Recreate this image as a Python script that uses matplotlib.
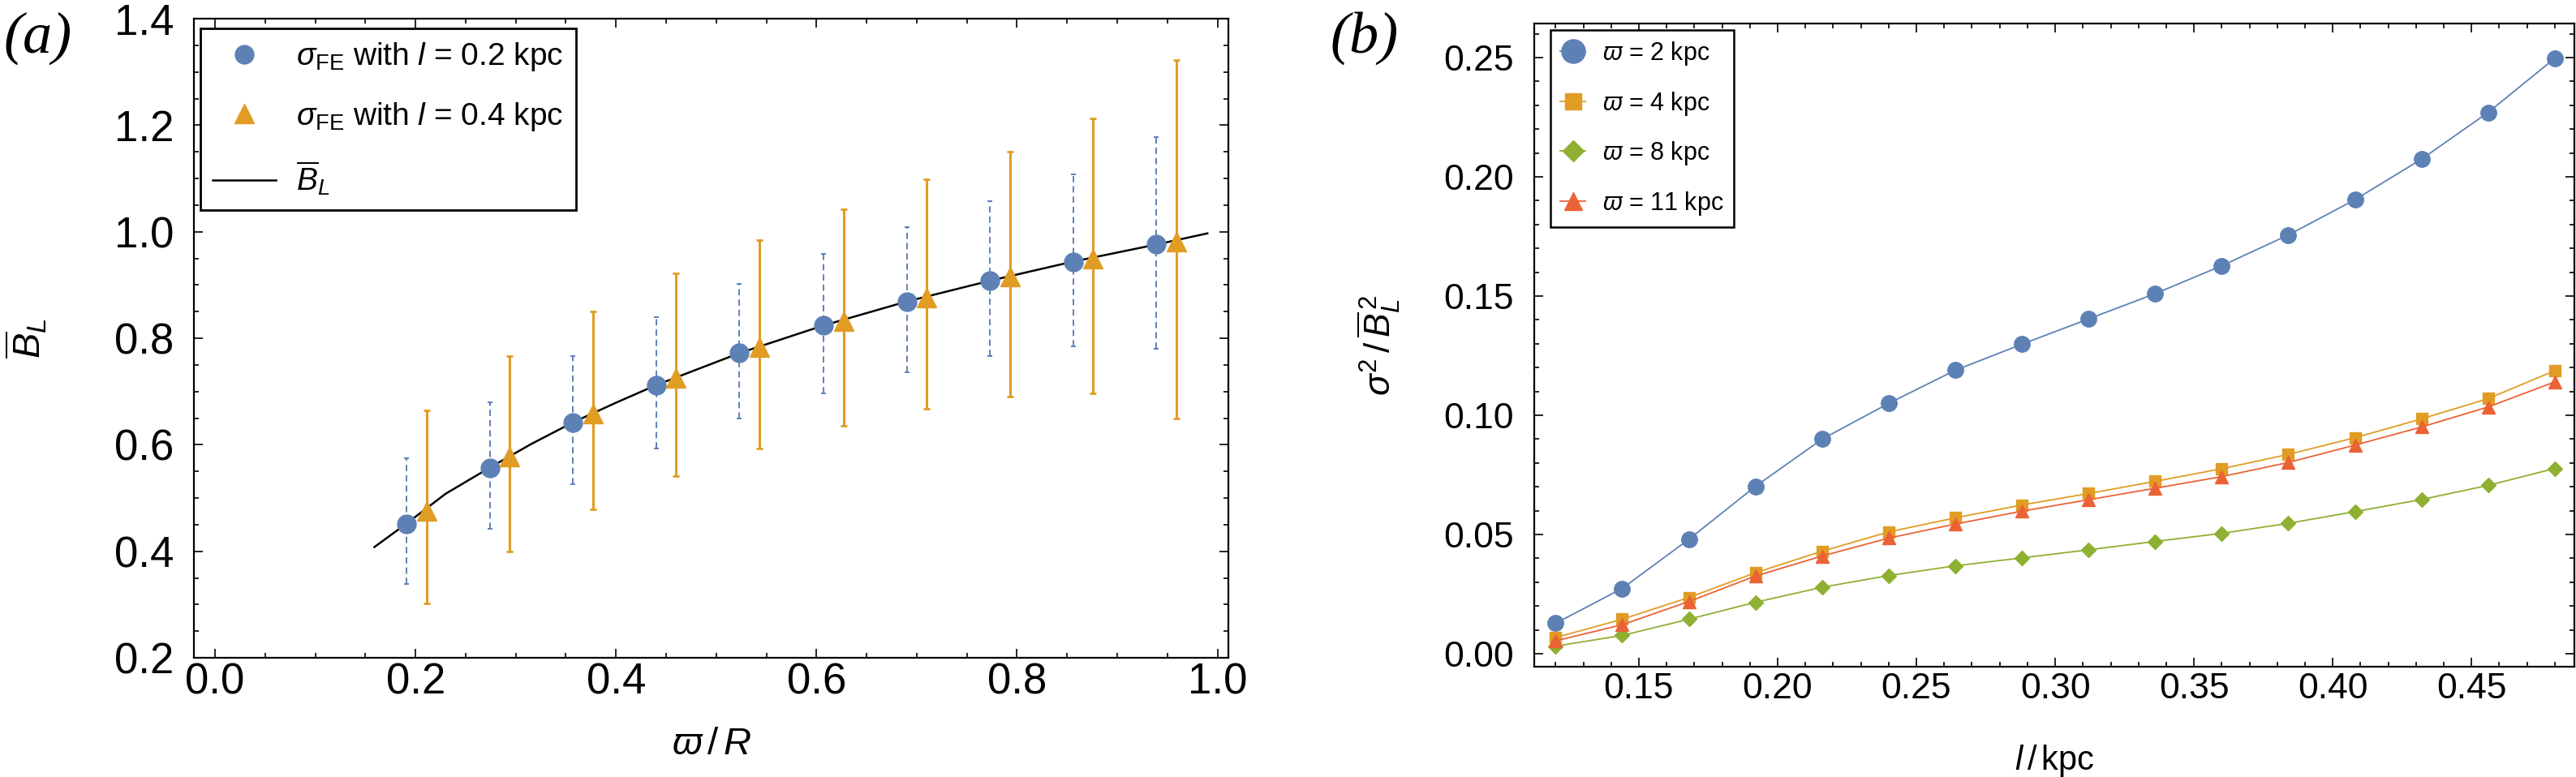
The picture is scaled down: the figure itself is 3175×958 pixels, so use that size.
import matplotlib
matplotlib.use('Agg')
import matplotlib.pyplot as plt
from matplotlib.lines import Line2D
from matplotlib.ticker import MultipleLocator, FormatStrFormatter

plt.rcParams['font.family'] = ['Liberation Sans', 'DejaVu Sans']
plt.rcParams['mathtext.fontset'] = 'custom'
plt.rcParams['mathtext.rm'] = 'Liberation Sans'
plt.rcParams['mathtext.it'] = 'Liberation Sans:italic'
plt.rcParams['mathtext.bf'] = 'Liberation Sans:bold'

# Mathematica default colours
c_blue = '#5E81B5'
c_orange = '#E19C24'
c_green = '#8FB032'
c_red = '#EB6235'

# ---- panel (a): mean field with error bars ----
varpi_a = [0.191, 0.274, 0.357, 0.440, 0.523, 0.607, 0.690, 0.773, 0.856, 0.939]
B_a = [0.452, 0.557, 0.642, 0.712, 0.772, 0.824, 0.869, 0.908, 0.944, 0.976]
lo_a = [0.338, 0.442, 0.526, 0.593, 0.650, 0.697, 0.736, 0.766, 0.785, 0.780]
hi_a = [0.574, 0.680, 0.766, 0.839, 0.902, 0.958, 1.009, 1.058, 1.108, 1.178]

varpi_b = [0.211, 0.294, 0.377, 0.460, 0.543, 0.627, 0.710, 0.793, 0.876, 0.959]
B_b = [0.476, 0.577, 0.659, 0.726, 0.783, 0.832, 0.877, 0.916, 0.950, 0.981]
lo_b = [0.302, 0.400, 0.478, 0.541, 0.593, 0.635, 0.668, 0.690, 0.696, 0.649]
hi_b = [0.665, 0.767, 0.851, 0.922, 0.985, 1.042, 1.098, 1.151, 1.213, 1.322]

curve_x = [0.159, 0.191, 0.230, 0.274, 0.315, 0.357, 0.400, 0.440, 0.523, 0.607,
           0.690, 0.773, 0.856, 0.939, 0.990]
curve_y = [0.408, 0.452, 0.508, 0.557, 0.601, 0.642, 0.679, 0.712, 0.772, 0.824,
           0.869, 0.908, 0.944, 0.976, 0.997]

# ---- panel (b): relative variance vs l ----
l_kpc = [0.120, 0.144, 0.168, 0.192, 0.216, 0.240, 0.264, 0.288,
         0.312, 0.336, 0.360, 0.384, 0.408, 0.432, 0.456, 0.480]
var_w2 = [0.0128, 0.0274, 0.0480, 0.0702, 0.0900, 0.1050, 0.1189, 0.1298,
          0.1404, 0.1510, 0.1627, 0.1756, 0.1904, 0.2074, 0.2270, 0.2497]
var_w4 = [0.0068, 0.0145, 0.0236, 0.0340, 0.0430, 0.0511, 0.0570, 0.0624,
          0.0672, 0.0723, 0.0776, 0.0836, 0.0906, 0.0985, 0.1070, 0.1187]
var_w8 = [0.0032, 0.0077, 0.0145, 0.0216, 0.0279, 0.0328, 0.0369, 0.0402,
          0.0436, 0.0471, 0.0505, 0.0547, 0.0596, 0.0647, 0.0706, 0.0777]
var_w11 = [0.0054, 0.0122, 0.0219, 0.0326, 0.0410, 0.0485, 0.0544, 0.0598,
           0.0646, 0.0694, 0.0743, 0.0802, 0.0875, 0.0951, 0.1035, 0.1140]

fig = plt.figure(figsize=(31.75, 9.58), dpi=100)
ax1 = fig.add_axes([0.0753, 0.1534, 0.4016, 0.8225])
ax2 = fig.add_axes([0.5956, 0.1420, 0.4038, 0.8278])

# panel a
ax1.plot(curve_x, curve_y, color='black', lw=1.8, zorder=2)
err_a = [[b - lo for b, lo in zip(B_a, lo_a)], [hi - b for b, hi in zip(B_a, hi_a)]]
eb1 = ax1.errorbar(varpi_a, B_a, yerr=err_a, fmt='o', ms=16.5, color=c_blue,
                   ecolor=c_blue, elinewidth=1.4, capsize=2.5, capthick=1.4, zorder=3)
eb1[2][0].set_linestyle((0, (4, 2.5)))
err_b = [[b - lo for b, lo in zip(B_b, lo_b)], [hi - b for b, hi in zip(B_b, hi_b)]]
ax1.errorbar(varpi_b, B_b, yerr=err_b, fmt='^', ms=17, color=c_orange,
             ecolor=c_orange, elinewidth=2.2, capsize=3, capthick=2, zorder=3)

ax1.set_xlim(-0.021, 1.011)
ax1.set_ylim(0.2, 1.4)
ax1.xaxis.set_major_locator(MultipleLocator(0.2))
ax1.xaxis.set_minor_locator(MultipleLocator(0.05))
ax1.yaxis.set_major_locator(MultipleLocator(0.2))
ax1.yaxis.set_minor_locator(MultipleLocator(0.05))
ax1.xaxis.set_major_formatter(FormatStrFormatter('%.1f'))
ax1.yaxis.set_major_formatter(FormatStrFormatter('%.1f'))

hand_a = [Line2D([], [], marker='o', ls='none', color=c_blue, ms=16.5),
          Line2D([], [], marker='^', ls='none', color=c_orange, ms=17),
          Line2D([], [], color='black', lw=1.8)]
lab_a = [r'$\sigma_{\mathrm{FE}}$ with $l$ = 0.2 kpc',
         r'$\sigma_{\mathrm{FE}}$ with $l$ = 0.4 kpc',
         r'$\overline{B}_L$']
leg1 = ax1.legend(hand_a, lab_a, loc='upper left', bbox_to_anchor=(0.006, 0.985),
                  borderaxespad=0, fontsize=28, handlelength=2.0, handletextpad=0.65,
                  labelspacing=0.85, borderpad=0.4, fancybox=False, framealpha=1,
                  edgecolor='black')
leg1.get_frame().set_linewidth(2)

ax1.set_xlabel(r'$\varpi\,/\,R$', fontsize=34)
ax1.xaxis.set_label_coords(0.5, -0.108)
ax1.set_ylabel(r'$\overline{B}_L$', fontsize=34)
ax1.yaxis.set_label_coords(-0.14, 0.5)

# panel b
ax2.plot(l_kpc, var_w2, '-o', color=c_blue, lw=1.3, ms=14, label=r'$\varpi$ = 2 kpc')
ax2.plot(l_kpc, var_w4, '-s', color=c_orange, lw=1.3, ms=9.5, label=r'$\varpi$ = 4 kpc')
ax2.plot(l_kpc, var_w8, '-D', color=c_green, lw=1.3, ms=9, label=r'$\varpi$ = 8 kpc')
ax2.plot(l_kpc, var_w11, '-^', color=c_red, lw=1.3, ms=11, label=r'$\varpi$ = 11 kpc')

ax2.set_xlim(0.1123, 0.4871)
ax2.set_ylim(-0.0054, 0.2643)
ax2.xaxis.set_major_locator(MultipleLocator(0.05))
ax2.xaxis.set_minor_locator(MultipleLocator(0.01))
ax2.yaxis.set_major_locator(MultipleLocator(0.05))
ax2.yaxis.set_minor_locator(MultipleLocator(0.01))
ax2.xaxis.set_major_formatter(FormatStrFormatter('%.2f'))
ax2.yaxis.set_major_formatter(FormatStrFormatter('%.2f'))

leg2 = ax2.legend(loc='upper left', bbox_to_anchor=(0.0156, 0.99), borderaxespad=0,
                  fontsize=22, markerscale=1.5, handlelength=1.0, handletextpad=0.7,
                  labelspacing=0.9, borderpad=0.4, fancybox=False, framealpha=1,
                  edgecolor='black')
leg2.get_frame().set_linewidth(1.8)

ax2.set_xlabel(r'$l\,/\,$kpc', fontsize=30)
ax2.xaxis.set_label_coords(0.5, -0.118)
ax2.set_ylabel(r'$\sigma^2\,/\,\overline{B}_L^{\,2}$', fontsize=32)
ax2.yaxis.set_label_coords(-0.127, 0.5)

for ax, fs, xpad in ((ax1, 38, 4), (ax2, 32, 5)):
    ax.tick_params(which='both', direction='in', top=True, right=True, width=1.2,
                   labelsize=fs)
    ax.tick_params(which='major', length=8)
    ax.tick_params(which='minor', length=4)
    ax.tick_params(axis='x', pad=xpad)
    ax.tick_params(axis='y', pad=18)
    for s in ax.spines.values():
        s.set_linewidth(1.6)

fig.text(0.0145, 0.951, '(a)', family='Liberation Serif', style='italic',
         fontsize=52, ha='center', va='center')
fig.text(0.5295, 0.951, '(b)', family='Liberation Serif', style='italic',
         fontsize=52, ha='center', va='center')

fig.savefig('out.png', dpi=100)
